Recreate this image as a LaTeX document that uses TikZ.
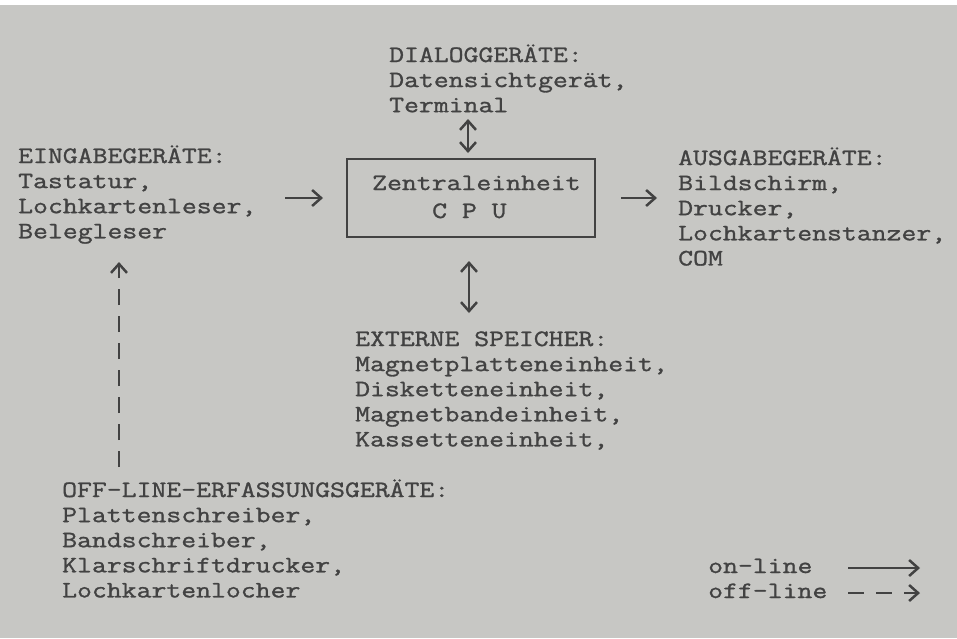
\documentclass[tikz,border=0pt]{standalone}
\usepackage{fontspec}
\setmainfont{Latin Modern Mono}[FakeStretch=1.23,FakeBold=1.2]
\usetikzlibrary{arrows.meta}
\definecolor{bg}{RGB}{199,199,196}
\definecolor{ink}{RGB}{66,66,66}
\newcommand\twfont{\fontsize{23.5}{25.1}\selectfont\lineskiplimit=-100pt\relax}
\tikzset{
  txt/.style={anchor=base west, inner sep=0pt, align=left, font=\twfont, text=ink},
  arr/.style={draw=ink, line width=2.5pt, -{Straight Barb[length=9pt,width=16pt]}},
  dbl/.style={draw=ink, line width=2.5pt, {Straight Barb[length=9pt,width=16pt]}-{Straight Barb[length=9pt,width=16pt]}},
  offdash/.style={dash pattern=on 16pt off 11pt},
  cpubox/.style={draw=ink, line width=2.8pt, minimum width=248pt, minimum height=78pt, inner sep=0pt}
}
\begin{document}
\begin{tikzpicture}[x=1pt,y=-1pt]
\fill[white] (0,0) rectangle (957,638);
\fill[bg] (0,5) rectangle (957,638);
\useasboundingbox (0,0) rectangle (957,638);

% base anchor of a multi-line node = baseline of its last line
\node[cpubox] (cpu) at (471,198) {};
\node[txt] (zent) at (372,190) {Zentraleinheit};
\node[txt] (cpul) at (432,218) {C P U};

\node[txt] (dia) at (389,112.2) {DIALOGGERÄTE:\\Datensichtgerät,\\Terminal};
\node[txt] (ein) at (18,238.3) {EINGABEGERÄTE:\\Tastatur,\\Lochkartenleser,\\Belegleser};
\node[txt] (aus) at (678,265.4) {AUSGABEGERÄTE:\\Bildschirm,\\Drucker,\\Lochkartenstanzer,\\COM};
\node[txt] (ext) at (355,446.4) {EXTERNE SPEICHER:\\Magnetplatteneinheit,\\Disketteneinheit,\\Magnetbandeinheit,\\Kassetteneinheit,};
\node[txt] (off) at (62,597.4) {OFF-LINE-ERFASSUNGSGERÄTE:\\Plattenschreiber,\\Bandschreiber,\\Klarschriftdrucker,\\Lochkartenlocher};

\node[txt] (onl) at (708,573) {on-line};
\node[txt] (offl) at (708,598) {off-line};

% connectors
\coordinate (einR) at (285,198);
\coordinate (cpuL) at (323,198);
\coordinate (cpuR) at (621,198);
\coordinate (ausL) at (657,198);
\draw[arr] (einR) -- (cpuL);
\draw[arr] (cpuR) -- (ausL);

\coordinate (diaB) at (468,119);
\coordinate (cpuT) at (468,153);
\draw[dbl] (diaB) -- (cpuT);

\coordinate (cpuB) at (469,261);
\coordinate (extT) at (469,313);
\draw[dbl] (cpuB) -- (extT);

\coordinate (offT) at (119,467);
\coordinate (einB) at (119,262);
\draw[arr, offdash] (offT) -- (einB);

% legend
\coordinate (on1) at (848,568);
\coordinate (on2) at (920,568);
\draw[arr] (on1) -- (on2);
\coordinate (of1) at (848,593);
\coordinate (of2) at (920,593);
\draw[arr, dash pattern=on 16pt off 12pt] (of1) -- (of2);
\end{tikzpicture}
\end{document}
